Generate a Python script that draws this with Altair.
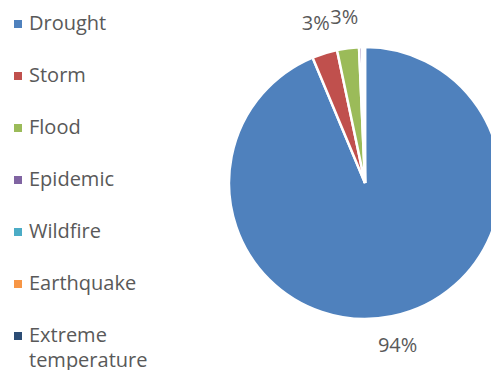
import altair as alt
import pandas as pd

categories = ["Drought", "Storm", "Flood", "Epidemic", "Wildfire", "Earthquake", "Extreme temperature"]
values = [93.7, 3.0, 2.6, 0.35, 0.15, 0.1, 0.1]
colors = ["#4F81BD", "#C0504D", "#9BBB59", "#8064A2", "#4BACC6", "#F79646", "#2C4D75"]

df = pd.DataFrame({"category": categories, "value": values, "idx": list(range(len(categories)))})

base = alt.Chart(df).transform_joinaggregate(
    total="sum(value)"
).transform_calculate(
    label="datum.value / datum.total >= 0.01 ? format(datum.value / datum.total, '.0%') : ''"
).encode(
    theta=alt.Theta("value:Q", stack=True),
    order=alt.Order("idx:Q"),
)

pie = base.mark_arc(outerRadius=136, stroke="white", strokeWidth=2.5).encode(
    color=alt.Color(
        "category:N",
        scale=alt.Scale(domain=categories, range=colors),
        legend=alt.Legend(
            title=None,
            orient="none",
            legendX=8,
            legendY=14,
            symbolType="square",
            symbolSize=64,
            symbolStrokeWidth=0,
            labelFont="Open Sans",
            labelFontSize=20,
            labelColor="#595959",
            rowPadding=32,
            labelOffset=1,
            labelLimit=300,
            labelExpr="datum.label == 'Extreme temperature' ? ['Extreme', 'temperature'] : datum.label",
        ),
    ),
    x=alt.value(365),
    y=alt.value(183),
)

text = base.mark_text(radius=166, font="Open Sans", fontSize=20, color="#595959").encode(
    text="label:N",
    x=alt.value(365),
    y=alt.value(183),
)

chart = (pie + text).properties(
    width=491,
    height=370,
    padding=0,
    autosize=alt.AutoSizeParams(type="none"),
).configure(
    style={"guide-label": {"lineHeight": 25}}
).configure_view(stroke=None)

chart.save("out.html", embed_options={"renderer": "svg", "actions": False})
